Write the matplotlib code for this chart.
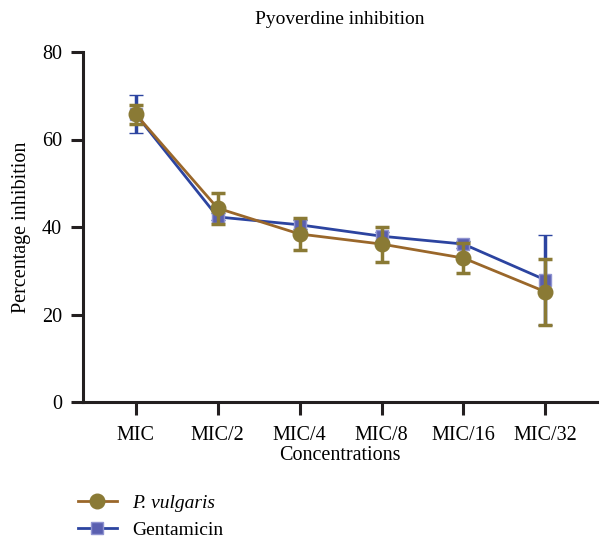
import matplotlib
matplotlib.use("Agg")
import matplotlib.pyplot as plt
from matplotlib.lines import Line2D

plt.rcParams['font.family'] = ['Liberation Serif', 'DejaVu Serif']

categories = ["MIC", "MIC/2", "MIC/4", "MIC/8", "MIC/16", "MIC/32"]
pv_mean = [65.8, 44.3, 38.4, 36.1, 32.9, 25.2]
pv_err = [2.2, 3.5, 3.7, 4.0, 3.4, 7.6]
gen_mean = [65.8, 42.3, 40.5, 37.9, 36.1, 27.9]
gen_err = [4.4, 0.8, 1.0, 1.0, 0.8, 10.3]
yticks = [0, 20, 40, 60, 80]

gold = "#8a7a35"
brown = "#9a672a"
blue = "#2c44a0"
sqfill = "#5a5fb0"

fig = plt.figure(figsize=(6, 5.4), dpi=100)
ax = fig.add_axes([82.7/600, 1-402/540, (597-82.7)/600, 350/540])
x = list(range(len(categories)))

ax.errorbar(x, gen_mean, yerr=gen_err, color=blue, lw=2, marker='s', ms=9,
            mfc=sqfill, mec="#8f93d0", mew=1, ecolor=blue, elinewidth=2.5,
            capsize=5, capthick=2.5, zorder=3)
ax.errorbar(x, pv_mean, yerr=pv_err, color=brown, lw=2, marker='o', ms=10.5,
            mfc=gold, mec=gold, ecolor=gold, elinewidth=2.5,
            capsize=5, capthick=2.5, zorder=4)

ax.set_xlim(-0.647, 5.63)
ax.set_ylim(0, 80)
ax.set_yticks(yticks)
ax.set_xticks(x)
ax.set_xticklabels(categories)
for s in ['top', 'right']:
    ax.spines[s].set_visible(False)
for s in ['left', 'bottom']:
    ax.spines[s].set_linewidth(2.2)
    ax.spines[s].set_color("#231f20")
ax.tick_params(axis='both', length=9, width=2.2, color="#231f20",
               labelsize=14.5)
ax.tick_params(axis='x', pad=8)
ax.tick_params(axis='y', pad=6)
ax.set_ylabel("Percentage inhibition", fontsize=14.5, labelpad=8)
ax.set_xlabel("Concentrations", fontsize=14.5, labelpad=1)
ax.set_title("Pyoverdine inhibition", fontsize=14, pad=20)

handles = [
    Line2D([0], [0], color=brown, lw=2, marker='o', ms=10.5, mfc=gold, mec=gold),
    Line2D([0], [0], color=blue, lw=2, marker='s', ms=9, mfc=sqfill, mec="#8f93d0"),
]
leg = fig.legend(handles, ["P. vulgaris", "Gentamicin"], loc='upper left',
                 bbox_to_anchor=(78/600, 1-494/540), frameon=False,
                 fontsize=14, handlelength=2.0, handletextpad=0.8,
                 labelspacing=0.5, borderaxespad=0, borderpad=0)
leg.get_texts()[0].set_style('italic')

fig.savefig("out.png", dpi=100)
